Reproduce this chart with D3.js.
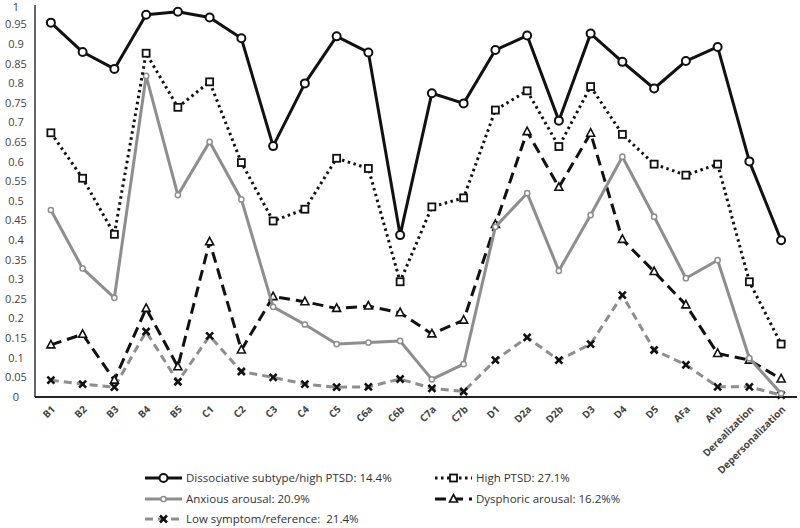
<!DOCTYPE html>
<html lang="en">
<head>
  <meta charset="UTF-8">
  <title>PTSD classes</title>
  <script src="https://d3js.org/d3.v7.min.js"></script>
  <style>
    body { margin: 0; background: #fff; }
    svg { display: block; }
    .ylab { font: 11px "Open Sans", sans-serif; fill: #444; }
    .xlab { font: bold 10px "Open Sans", sans-serif; fill: #444; }
    .leg text { font: 11.5px "Open Sans", sans-serif; fill: #333; white-space: pre; }
  </style>
</head>
<body>
  <svg width="800" height="528"></svg>

  <script>
    const categories = ["B1","B2","B3","B4","B5","C1","C2","C3","C4","C5","C6a","C6b","C7a","C7b",
                        "D1","D2a","D2b","D3","D4","D5","AFa","AFb","Derealization","Depersonalization"];
    const yTicks = [0,0.05,0.1,0.15,0.2,0.25,0.3,0.35,0.4,0.45,0.5,0.55,0.6,0.65,0.7,0.75,0.8,0.85,0.9,0.95,1];

    const dissociative = [0.955,0.880,0.837,0.975,0.983,0.968,0.915,0.640,0.800,0.920,0.879,0.413,0.775,0.749,
                          0.885,0.922,0.705,0.927,0.855,0.787,0.857,0.893,0.601,0.400];
    const highPtsd     = [0.674,0.558,0.415,0.877,0.739,0.804,0.598,0.449,0.479,0.609,0.583,0.294,0.485,0.508,
                          0.732,0.781,0.639,0.792,0.670,0.594,0.566,0.594,0.294,0.135];
    const anxious      = [0.477,0.328,0.253,0.819,0.515,0.651,0.504,0.230,0.185,0.135,0.139,0.143,0.045,0.084,
                          0.434,0.520,0.322,0.464,0.613,0.460,0.303,0.349,0.099,0.009];
    const dysphoric    = [0.133,0.160,0.043,0.226,0.077,0.396,0.120,0.256,0.243,0.226,0.232,0.215,0.161,0.196,
                          0.440,0.677,0.535,0.673,0.402,0.320,0.235,0.111,0.094,0.046];
    const lowSymptom   = [0.043,0.033,0.025,0.167,0.039,0.156,0.065,0.050,0.033,0.025,0.026,0.046,0.022,0.014,
                          0.094,0.152,0.094,0.135,0.260,0.120,0.082,0.026,0.026,0.005];

    const seriesNames = ["Dissociative subtype/high PTSD: 14.4%","High PTSD: 27.1%","Anxious arousal: 20.9%",
                         "Dysphoric arousal: 16.2%%","Low symptom/reference:  21.4%"];

    const gray = "#8e8e8e";
    const series = [
      {name: seriesNames[0], values: dissociative, color: "#111", dash: null, marker: "circle", leg: [145, 478]},
      {name: seriesNames[1], values: highPtsd, color: "#111", dash: "2.5,3.5", marker: "square", leg: [435, 478]},
      {name: seriesNames[2], values: anxious, color: gray, dash: null, marker: "smallcircle", leg: [145, 499]},
      {name: seriesNames[3], values: dysphoric, color: "#111", dash: "11,6", marker: "triangle", leg: [435, 499]},
      {name: seriesNames[4], values: lowSymptom, color: gray, dash: "8,5", marker: "x", leg: [145, 519]}
    ];

    const svg = d3.select("svg");
    const margin = {left: 35, right: 3, top: 5, bottom: 131};
    const width = 800, height = 528;

    const x = d3.scaleBand().domain(categories).range([margin.left, width - margin.right]);
    const y = d3.scaleLinear().domain([0, 1]).range([height - margin.bottom, margin.top]);
    const cx = d => x(d) + x.bandwidth() / 2;

    // y axis
    svg.append("line").attr("x1", margin.left).attr("x2", margin.left)
       .attr("y1", y(1)).attr("y2", y(0)).attr("stroke", "#666").attr("stroke-width", 2);
    svg.selectAll(".ylab").data(yTicks).enter().append("text")
       .attr("class", "ylab").attr("x", 16).attr("y", d => Math.max(y(d), 7)).attr("dy", "0.35em")
       .attr("text-anchor", "middle").text(d => d3.format("")(d));

    // x axis
    svg.append("line").attr("x1", margin.left).attr("x2", width - margin.right)
       .attr("y1", y(0)).attr("y2", y(0)).attr("stroke", "#222").attr("stroke-width", 2);
    svg.selectAll(".xlab").data(categories).enter().append("text")
       .attr("class", "xlab")
       .attr("transform", d => `translate(${cx(d) + 5},${y(0) + 13}) rotate(-45)`)
       .attr("text-anchor", "end").text(d => d);

    function drawMarker(g, type, color) {
      if (type === "circle") {
        g.append("circle").attr("r", 4).attr("fill", "#fff").attr("stroke", color).attr("stroke-width", 2);
      } else if (type === "smallcircle") {
        g.append("circle").attr("r", 2.6).attr("fill", "#fff").attr("stroke", color).attr("stroke-width", 1.5);
      } else if (type === "square") {
        g.append("rect").attr("x", -3.5).attr("y", -3.5).attr("width", 7).attr("height", 7)
         .attr("fill", "#fff").attr("stroke", color).attr("stroke-width", 1.8);
      } else if (type === "triangle") {
        g.append("path").attr("d", "M0,-4.5L4,3L-4,3Z")
         .attr("fill", "#fff").attr("stroke", color).attr("stroke-width", 1.6);
      } else if (type === "x") {
        g.append("path").attr("d", "M-3.5,-3.5L3.5,3.5M3.5,-3.5L-3.5,3.5M-2,0L2,0")
         .attr("fill", "none").attr("stroke", "#111").attr("stroke-width", 2.6);
      }
    }

    const line = d3.line().x((d, i) => cx(categories[i])).y(d => y(d));

    // draw in reverse so the black series sit on top
    series.slice().reverse().forEach(s => {
      svg.append("path").datum(s.values)
         .attr("d", line).attr("fill", "none")
         .attr("stroke", s.color).attr("stroke-width", 3)
         .attr("stroke-dasharray", s.dash)
         .attr("stroke-linejoin", "round");
      s.values.forEach((v, i) => {
        const g = svg.append("g").attr("transform", `translate(${cx(categories[i])},${y(v)})`);
        drawMarker(g, s.marker, s.color);
      });
    });

    // legend
    const leg = svg.append("g").attr("class", "leg");
    series.forEach(s => {
      const [lx, ly] = s.leg;
      leg.append("line").attr("x1", lx).attr("x2", lx + 37).attr("y1", ly).attr("y2", ly)
         .attr("stroke", s.color).attr("stroke-width", 3).attr("stroke-dasharray", s.dash);
      const g = leg.append("g").attr("transform", `translate(${lx + 18.5},${ly})`);
      drawMarker(g, s.marker, s.color);
      leg.append("text").attr("x", lx + 41).attr("y", ly).attr("dy", "0.35em")
         .attr("xml:space", "preserve").text(s.name);
    });
  </script>
</body>
</html>
